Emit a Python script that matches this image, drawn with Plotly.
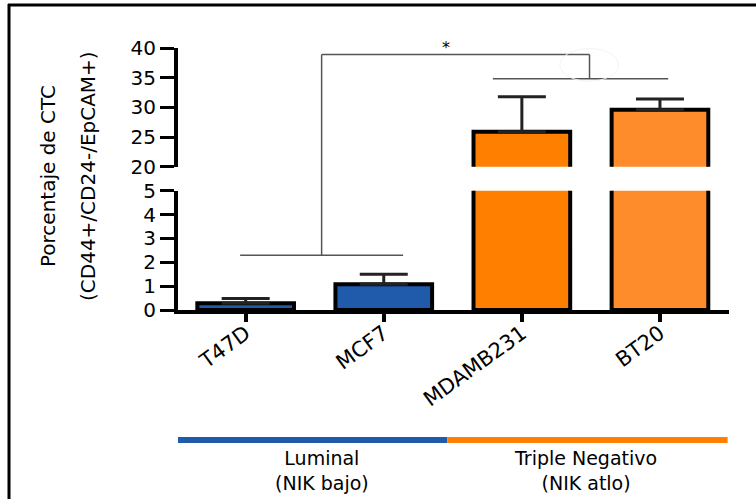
import plotly.graph_objects as go

# ---------------- data ----------------
categories = ["T47D", "MCF7", "MDAMB231", "BT20"]
values = [0.28, 1.08, 25.9, 29.6]
errors_plus = [0.2, 0.42, 5.9, 1.8]
bar_colors = ["#1F5AAB", "#1F5AAB", "#FF8000", "#FF8C2B"]

lower_ticks = [0, 1, 2, 3, 4, 5]
upper_ticks = [20, 25, 30, 35, 40]

group_labels = ["Luminal<br>(NIK bajo)", "Triple Negativo<br>(NIK atlo)"]
group_colors = ["#1F5AAB", "#FF8000"]
group_bounds = [-0.52, 1.46, 3.49]
group_label_x = [0.55, 2.46]

ylabel_lines = ["Porcentaje de CTC", "(CD44+/CD24-/EpCAM+)"]
signif_text = "*"

# ---------------- layout constants ----------------
W, H = 756, 499
ML, MR, MT, MB = 178, 27, 48, 189
PW, PH = W - ML - MR, H - MT - MB
LOW_DOM = [0.0, 0.455]
UP_DOM = [0.547, 1.0]
LOW_RNG = [0, 5]
UP_RNG = [20, 40]
XR = [-0.49, 3.5]
FONT = "DejaVu Sans"


def px_x(px):
    return (px - ML) / PW


def py_y(py):
    return (H - MB - py) / PH


def low_to_paper(v):
    return LOW_DOM[0] + (v - LOW_RNG[0]) / (LOW_RNG[1] - LOW_RNG[0]) * (LOW_DOM[1] - LOW_DOM[0])


def up_to_paper(v):
    return UP_DOM[0] + (v - UP_RNG[0]) / (UP_RNG[1] - UP_RNG[0]) * (UP_DOM[1] - UP_DOM[0])


fig = go.Figure()

err = dict(type="data", symmetric=False, array=errors_plus,
           arrayminus=[0] * len(errors_plus), color="#222222",
           thickness=3, width=24)

for yax in ["y", "y2"]:
    fig.add_trace(go.Bar(
        x=categories, y=values, width=0.7, yaxis=yax, xaxis="x",
        marker=dict(color=bar_colors, line=dict(color="black", width=4)),
        error_y=err, showlegend=False, hoverinfo="x+y",
    ))

axis_common = dict(showgrid=False, zeroline=False, showline=True,
                   linecolor="black", linewidth=4, ticks="outside",
                   ticklen=14, tickwidth=3, tickcolor="black",
                   tickfont=dict(family=FONT, size=20, color="black"))

fig.update_layout(
    width=W, height=H,
    margin=dict(l=ML, r=MR, t=MT, b=MB, pad=0),
    paper_bgcolor="white", plot_bgcolor="white",
    bargap=0.3,
    xaxis=dict(type="category", categoryorder="array", categoryarray=categories,
               range=XR, showgrid=False, zeroline=False, showline=True,
               linecolor="black", linewidth=4, ticks="outside", ticklen=8,
               tickwidth=4, tickcolor="black", tickangle=-36, anchor="y",
               ticklabelstandoff=-9,
               tickfont=dict(family=FONT, size=21, color="black")),
    yaxis=dict(domain=LOW_DOM, range=LOW_RNG, tickvals=lower_ticks, anchor="x",
               **axis_common),
    yaxis2=dict(domain=UP_DOM, range=UP_RNG, tickvals=upper_ticks, anchor="x",
                **axis_common),
)

# significance brackets
line_style = dict(color="#555555", width=1.5)
b_low_y = 2.3
b_top_y = 38.9
b_mid_y = 34.8
b_x_join = 0.55
b_x_drop = 2.49
shapes = [
    dict(type="line", xref="x", yref="y", x0=-0.04, x1=1.14, y0=b_low_y, y1=b_low_y, line=line_style),
    dict(type="line", xref="x", yref="paper", x0=b_x_join, x1=b_x_join,
         y0=low_to_paper(b_low_y), y1=up_to_paper(b_top_y), line=line_style),
    dict(type="line", xref="x", yref="y2", x0=b_x_join, x1=b_x_drop, y0=b_top_y, y1=b_top_y, line=line_style),
    dict(type="line", xref="x", yref="y2", x0=b_x_drop, x1=b_x_drop, y0=b_top_y, y1=b_mid_y, line=line_style),
    dict(type="line", xref="x", yref="y2", x0=1.79, x1=3.06, y0=b_mid_y, y1=b_mid_y, line=line_style),
    # faint artefact circle
    dict(type="circle", xref="x", yref="y2", x0=2.275, x1=2.70, y0=34.4, y1=39.9,
         line=dict(color="#f3f3f3", width=1)),
]

# group colour bars
for i, c in enumerate(group_colors):
    shapes.append(dict(type="line", xref="x", yref="paper",
                       x0=group_bounds[i], x1=group_bounds[i + 1],
                       y0=py_y(440), y1=py_y(440), line=dict(color=c, width=6)))

# frame (left + top edges)
shapes.append(dict(type="line", xref="paper", yref="paper", x0=px_x(9), x1=px_x(9),
                   y0=py_y(4), y1=py_y(H + 5), line=dict(color="black", width=3)))
shapes.append(dict(type="line", xref="paper", yref="paper", x0=px_x(8), x1=px_x(W + 5),
                   y0=py_y(5), y1=py_y(5), line=dict(color="black", width=3)))

fig.update_layout(shapes=shapes)

annotations = [
    dict(text=signif_text, xref="x", yref="paper", x=1.45, y=py_y(47), showarrow=False,
         xanchor="center", yanchor="middle",
         font=dict(family=FONT, size=16, color="black")),
]
for lbl, gx in zip(group_labels, group_label_x):
    annotations.append(dict(text=lbl, xref="x", yref="paper", x=gx, y=py_y(470),
                            yanchor="middle", xanchor="center", showarrow=False,
                            font=dict(family=FONT, size=19, color="black")))
for lbl, cx in zip(ylabel_lines, [48, 88]):
    annotations.append(dict(text=lbl, xref="paper", yref="paper", x=px_x(cx), y=py_y(176),
                            xanchor="center", yanchor="middle", textangle=-90,
                            showarrow=False, font=dict(family=FONT, size=20, color="black")))
fig.update_layout(annotations=annotations)

fig.write_html("out.html", config={"displayModeBar": False},
               post_script="document.body.style.margin='0';document.body.style.padding='0';")
